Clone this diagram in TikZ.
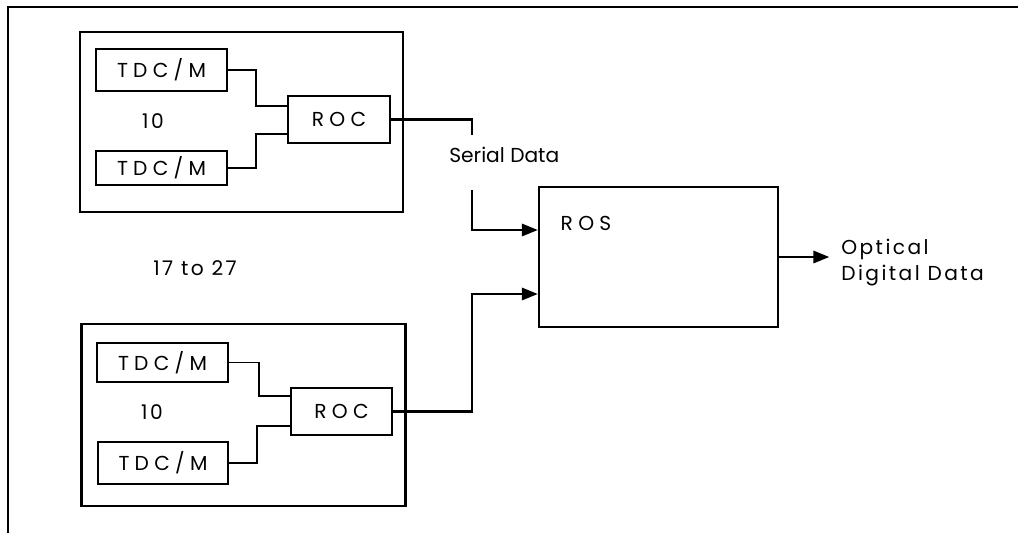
\documentclass[tikz,border=0pt]{standalone}
\usepackage{fontspec}
\setmainfont[LetterSpace=12]{Poppins}
\newfontfamily\capsfont[LetterSpace=26]{Poppins}
\newfontfamily\plainfont{Poppins}
\usetikzlibrary{calc,arrows.meta}
\begin{document}
\begin{tikzpicture}[x=0.02cm,y=-0.02cm,
  every node/.style={font=\fontsize{11.5}{15}\selectfont},
  smallbox/.style={draw,line width=0.9pt,inner sep=0pt,font=\capsfont\fontsize{11.5}{15}\selectfont},
  groupbox/.style={draw,line width=1.4pt,inner sep=0pt},
  wire/.style={line width=0.9pt},
  bus/.style={line width=1.2pt},
  arr/.style={line width=1.2pt,-{Triangle[length=9pt,width=7pt]}},
  lbl/.style={inner sep=0pt}]
\useasboundingbox (0,0) rectangle (1018,535);
% outer frame
\coordinate (fb) at (8,533);
\coordinate (ftl) at (8,7);
\coordinate (ftr) at (1018,7);
\draw[line width=1.3pt] (fb) -- (ftl) -- (ftr);
% top group
\node[groupbox,minimum width=323*0.02cm,minimum height=180*0.02cm] (boxA) at (241.5,122) {};
\node[smallbox,minimum width=131*0.02cm,minimum height=42*0.02cm] (tdcA1) at (161.5,70) {TDC/M};
\node[smallbox,minimum width=131*0.02cm,minimum height=34*0.02cm] (tdcA2) at (161.5,168) {TDC/M};
\node[smallbox,minimum width=102*0.02cm,minimum height=47*0.02cm] (rocA) at (339,119.5) {ROC};
\node[lbl] (tenA) at (153,121) {10};
\draw[wire] (tdcA1.east) -| ($(rocA.west)+(-31,-13.5)$) -- ($(rocA.west)+(0,-13.5)$);
\draw[wire] (tdcA2.east) -| ($(rocA.west)+(-31,14.5)$) -- ($(rocA.west)+(0,14.5)$);
% bottom group
\node[groupbox,minimum width=324*0.02cm,minimum height=182*0.02cm] (boxB) at (243.5,415) {};
\node[smallbox,minimum width=131*0.02cm,minimum height=39*0.02cm] (tdcB1) at (162.5,362.5) {TDC/M};
\node[smallbox,minimum width=130*0.02cm,minimum height=42*0.02cm] (tdcB2) at (163,463) {TDC/M};
\node[smallbox,minimum width=101*0.02cm,minimum height=47*0.02cm] (rocB) at (341.5,411.5) {ROC};
\node[lbl] (tenB) at (152,412) {10};
\draw[wire] (tdcB1.east) -| ($(rocB.west)+(-31,-15.5)$) -- ($(rocB.west)+(0,-15.5)$);
\draw[wire] (tdcB2.east) -| ($(rocB.west)+(-33,14.5)$) -- ($(rocB.west)+(0,14.5)$);
\node[lbl] (count) at (195,268) {17 to 27};
% ROS
\node[groupbox,minimum width=239*0.02cm,minimum height=140*0.02cm] (ros) at (658.5,257) {};
\node[lbl,font=\capsfont\fontsize{11.5}{15}\selectfont] (roslbl) at (586,223) {ROS};
% serial data
\node[lbl,anchor=west,font=\plainfont\fontsize{11.5}{15}\selectfont] (serial) at (449,155) {Serial Data};
\coordinate (sA) at (472,135);
\coordinate (sB) at (472,190);
\draw[bus] (rocA.east) -| (sA);
\draw[arr] (sB) |- ($(ros.west)+(0,-27)$);
\draw[arr] (rocB.east) -| ($(ros.west)+(-66,37)$) -- ($(ros.west)+(0,37)$);
% output
\node[lbl,anchor=west,align=left] (out) at (841,262.5) {Optical\\Digital Data};
\draw[arr] (ros.east) -- ($(ros.east)+(50,0)$);
\end{tikzpicture}
\end{document}
